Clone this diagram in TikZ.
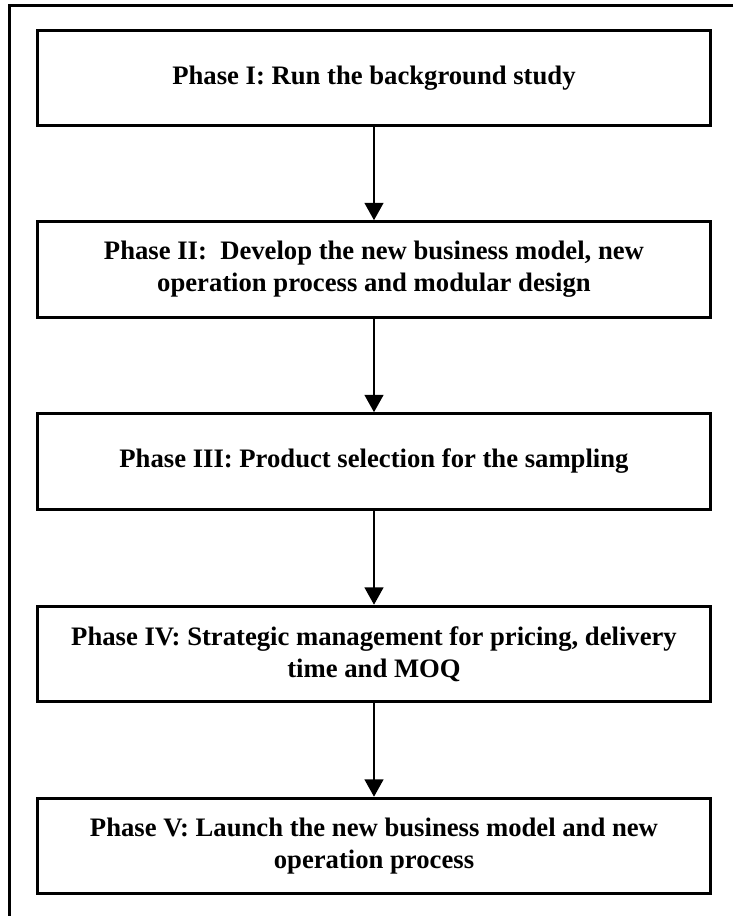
\documentclass[tikz,border=0pt]{standalone}
\usepackage{fontspec}
\setmainfont{Liberation Serif}
\usetikzlibrary{arrows.meta}
\begin{document}
\begin{tikzpicture}[x=0.75pt,y=-0.75pt,
  phasebox/.style={draw=black,line width=2.4pt,minimum width=505pt,minimum height=71.5pt,
    align=center,font=\fontsize{20}{24}\selectfont\bfseries,inner sep=0pt},
  flow/.style={line width=1.7pt,-{Triangle[width=14pt,length=13pt]}}]
  \useasboundingbox (0,0) rectangle (734,916);
  % partial outer frame (top and left edges)
  \draw[line width=2.4pt] (733,5.5) -- (9.5,5.5) -- (9.5,916);
  \node[phasebox] (p1) at (374,78) {Phase I: Run the background study};
  \node[phasebox] (p2) at (374,269.5) {Phase II:\ \ Develop the new business model, new\\operation process and modular design};
  \node[phasebox] (p3) at (374,461.5) {Phase III: Product selection for the sampling};
  \node[phasebox] (p4) at (374,654) {Phase IV: Strategic management for pricing, delivery\\time and MOQ};
  \node[phasebox] (p5) at (374,846) {Phase V: Launch the new business model and new\\operation process};
  \draw[flow] (p1) -- (p2);
  \draw[flow] (p2) -- (p3);
  \draw[flow] (p3) -- (p4);
  \draw[flow] (p4) -- (p5);
\end{tikzpicture}
\end{document}
